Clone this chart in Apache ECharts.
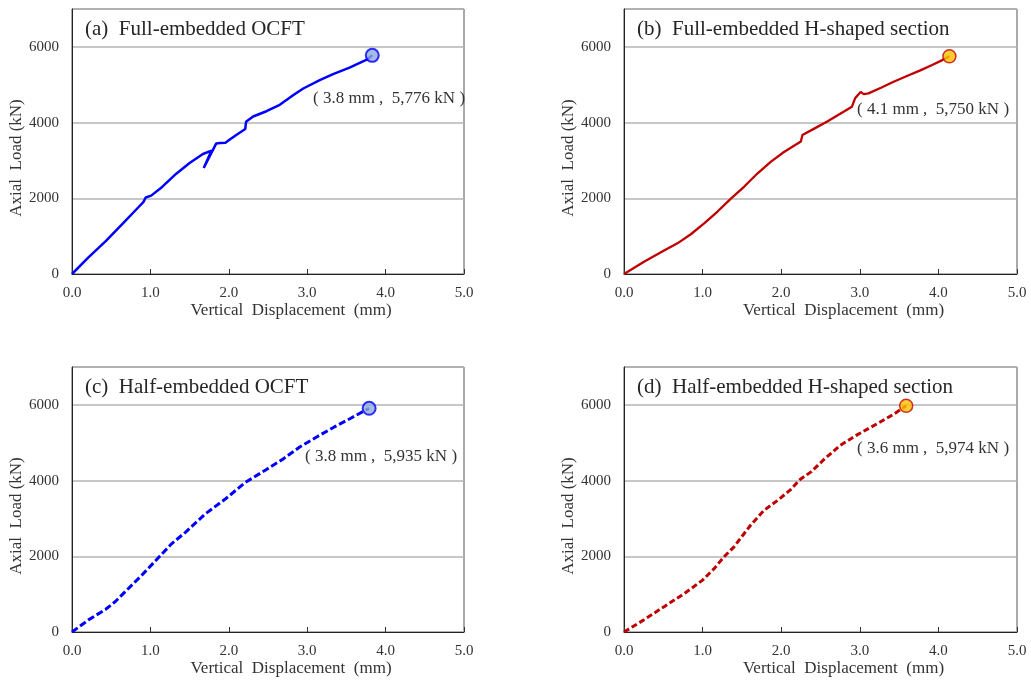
<!DOCTYPE html>
<html>
<head>
<meta charset="utf-8">
<title>Axial load - vertical displacement</title>
<script src="https://cdn.jsdelivr.net/npm/echarts@6/dist/echarts.min.js"></script>
<style>
  html, body { margin: 0; padding: 0; background: #fff; }
  #chart { width: 1031px; height: 680px; }
</style>
</head>
<body>
<div id="chart"></div>
<script>
// (a) full-embedded OCFT
const aDisp = [0, 0.2, 0.43, 0.65, 0.85, 0.91, 0.94, 1.01, 1.15, 1.33, 1.5, 1.67, 1.78, 1.68, 1.84, 1.89, 1.96, 1.99, 2.1, 2.21, 2.22, 2.31, 2.48, 2.65, 2.82, 2.95, 3.16, 3.33, 3.54, 3.76, 3.83]
const aLoad = [0, 420, 870, 1340, 1770, 1900, 2020, 2070, 2300, 2650, 2930, 3170, 3260, 2800, 3450, 3460, 3470, 3520, 3680, 3830, 4020, 4160, 4300, 4470, 4720, 4900, 5120, 5280, 5450, 5660, 5776]
// (b) full-embedded H-shaped section
const bDisp = [0, 0.26, 0.51, 0.68, 0.85, 1.02, 1.19, 1.36, 1.53, 1.7, 1.87, 2.04, 2.25, 2.27, 2.42, 2.58, 2.74, 2.9, 2.94, 3.01, 3.05, 3.11, 3.27, 3.43, 3.6, 3.77, 3.92, 4.05, 4.14]
const bLoad = [0, 330, 620, 810, 1050, 1340, 1650, 1990, 2310, 2660, 2970, 3230, 3500, 3670, 3840, 4020, 4220, 4420, 4640, 4810, 4750, 4770, 4920, 5080, 5230, 5380, 5520, 5650, 5750]
// (c) half-embedded OCFT
const cDisp = [0, 0.21, 0.43, 0.55, 0.72, 0.89, 1.11, 1.27, 1.45, 1.7, 1.96, 2.21, 2.47, 2.7, 2.9, 3.12, 3.34, 3.55, 3.79]
const cLoad = [0, 320, 600, 800, 1150, 1500, 1980, 2330, 2640, 3120, 3520, 3950, 4280, 4580, 4880, 5150, 5410, 5640, 5910]
// (d) half-embedded H-shaped section
const dDisp = [0, 0.26, 0.51, 0.77, 1.0, 1.15, 1.27, 1.4, 1.51, 1.61, 1.78, 1.95, 2.12, 2.24, 2.38, 2.54, 2.75, 2.96, 3.22, 3.43, 3.59]
const dLoad = [0, 330, 670, 1020, 1370, 1680, 1980, 2250, 2550, 2820, 3210, 3470, 3760, 4030, 4230, 4550, 4930, 5200, 5500, 5750, 5974]

// peak points
const peakDisp = [3.83, 4.14, 3.79, 3.59]
const peakLoad = [5776, 5750, 5910, 5974]

const panelTitles = ['(a)  Full-embedded OCFT', '(b)  Full-embedded H-shaped section', '(c)  Half-embedded OCFT', '(d)  Half-embedded H-shaped section']
const peakLabels = ['( 3.8 mm ,  5,776 kN )', '( 4.1 mm ,  5,750 kN )', '( 3.8 mm ,  5,935 kN )', '( 3.6 mm ,  5,974 kN )']
const xTitle = 'Vertical  Displacement  (mm)'
const yTitle = 'Axial  Load (kN)'

const FONT = 'Liberation Serif'
const BLUE = '#0000ff'
const RED = '#c00000'

const pairs = (xs, ys) => xs.map((x, i) => [x, ys[i]])

const grids = [
  { left: 72, top: 9, width: 392, height: 265 },
  { left: 624, top: 9, width: 393, height: 265 },
  { left: 72, top: 367, width: 392, height: 265 },
  { left: 624, top: 367, width: 393, height: 265 },
]
const titlePos = [[85, 19], [637, 19], [85, 377], [637, 377]]
const labelPos = [[313, 90], [857, 101], [305, 448], [857, 440]]

let myChart = echarts.init(document.getElementById('chart'))

let option = {
  animation: false,
  backgroundColor: '#ffffff',
  title: [
    ...panelTitles.map((t, i) => ({
      text: t,
      left: titlePos[i][0],
      top: titlePos[i][1],
      padding: 0,
      textStyle: { fontFamily: FONT, fontSize: 21, fontWeight: 'normal', color: '#262626' },
    })),
    ...peakLabels.map((t, i) => ({
      text: t,
      left: labelPos[i][0],
      top: labelPos[i][1],
      padding: 0,
      textStyle: { fontFamily: FONT, fontSize: 17, fontWeight: 'normal', color: '#333' },
    })),
  ],
  grid: grids.map(g => ({ ...g, show: true, borderColor: '#555', borderWidth: 1, backgroundColor: '#fff' })),
  xAxis: grids.map((g, i) => ({
    type: 'value',
    gridIndex: i,
    min: 0,
    max: 5,
    interval: 1,
    name: xTitle,
    nameLocation: 'middle',
    nameGap: 25,
    nameTextStyle: { fontFamily: FONT, fontSize: 17, color: '#333', padding: [0, 0, 0, 46] },
    axisLine: { lineStyle: { color: '#222', width: 1 } },
    axisTick: { show: true, inside: true, length: 5, lineStyle: { color: '#333' } },
    axisLabel: {
      fontFamily: FONT,
      fontSize: 15,
      color: '#333',
      margin: 12,
      formatter: v => v.toFixed(1),
    },
    splitLine: { show: false },
  })),
  yAxis: grids.map((g, i) => ({
    type: 'value',
    gridIndex: i,
    min: 0,
    max: 7000,
    interval: 2000,
    name: yTitle,
    nameLocation: 'middle',
    nameGap: 45,
    nameTextStyle: { fontFamily: FONT, fontSize: 17, color: '#333', padding: [0, 33, 0, 0] },
    axisLine: { show: true, lineStyle: { color: '#222', width: 1 } },
    axisTick: { show: false },
    axisLabel: {
      fontFamily: FONT,
      fontSize: 15,
      color: '#333',
      margin: 13,
      showMaxLabel: false,
      formatter: v => String(v),
    },
    splitLine: { show: true, lineStyle: { color: '#b4b4b4', width: 1.5 } },
  })),
  series: [
    {
      type: 'line', xAxisIndex: 0, yAxisIndex: 0, showSymbol: false,
      data: pairs(aDisp, aLoad),
      lineStyle: { color: BLUE, width: 2.5 },
    },
    {
      type: 'line', xAxisIndex: 1, yAxisIndex: 1, showSymbol: false,
      data: pairs(bDisp, bLoad),
      lineStyle: { color: RED, width: 2.3 },
    },
    {
      type: 'line', xAxisIndex: 2, yAxisIndex: 2, showSymbol: false,
      data: pairs(cDisp, cLoad),
      lineStyle: { color: BLUE, width: 3, type: [7, 3] },
    },
    {
      type: 'line', xAxisIndex: 3, yAxisIndex: 3, showSymbol: false,
      data: pairs(dDisp, dLoad),
      lineStyle: { color: RED, width: 3, type: [6, 3] },
    },
    ...peakDisp.map((x, i) => ({
      type: 'scatter',
      xAxisIndex: i,
      yAxisIndex: i,
      symbolSize: 13,
      z: 5,
      data: [[x, peakLoad[i]]],
      itemStyle: i % 2 == 0
        ? { color: '#8eaadb', borderColor: BLUE, borderWidth: 2 }
        : { color: '#ffc000', borderColor: RED, borderWidth: 1.5 },
    })),
  ],
}
myChart.setOption(option)
window.addEventListener('resize', () => {
  myChart.resize()
})
</script>
</body>
</html>
